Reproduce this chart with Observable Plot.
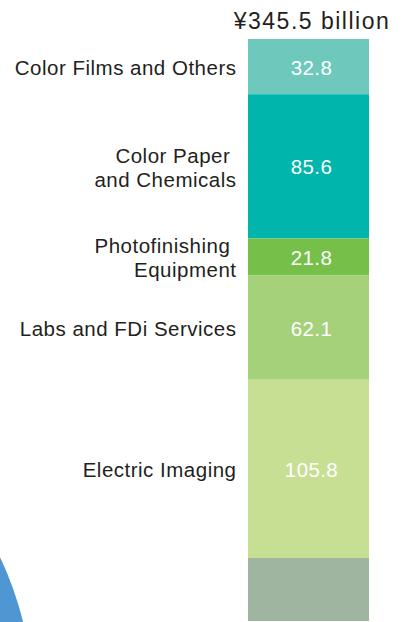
<!DOCTYPE html>
<html>
<head>
<meta charset="utf-8">
<script src="https://cdn.jsdelivr.net/npm/d3@7"></script>
<script src="https://cdn.jsdelivr.net/npm/@observablehq/plot@0.6"></script>
<style>
  html, body { margin: 0; padding: 0; background: #fff; }
</style>
</head>
<body>
<div id="chart"></div>
<script>
// ---- data ----
const categories = [
  "Color Films and Others",
  "Color Paper\u00a0\nand Chemicals",
  "Photofinishing\u00a0\nEquipment",
  "Labs and FDi Services",
  "Electric Imaging",
  ""
];
const values = [32.8, 85.6, 21.8, 62.1, 105.8, 37.4];
const showValue = [true, true, true, true, true, false];
const colors = ["#6ec8bc", "#00b5ac", "#76c04a", "#a4d17a", "#c6df93", "#a0b5a0"];
const totalLabel = "¥345.5 billion";
const total = 345.5;
const pieFragment = [{color: "#4f97d3"}];

const rows = categories.map((c, i) => ({
  key: "total",
  label: c,
  value: values[i],
  valueText: showValue[i] ? values[i].toFixed(1) : null,
  color: colors[i]
}));

const chart = Plot.plot({
  width: 406,
  height: 622,
  marginLeft: 248,
  marginRight: 37,
  marginTop: 39,
  marginBottom: 1,
  x: {domain: ["total"], padding: 0, axis: null},
  y: {domain: [0, total], reverse: true, axis: null},
  style: {fontFamily: "'Liberation Sans', Arial, Helvetica, sans-serif", background: "#fff", color: "#231f20"},
  marks: [
    Plot.dot(pieFragment, {frameAnchor: "bottom-left", r: 332, fill: "color", dx: -548, dy: 79}),
    Plot.barY(rows, {x: "key", y: "value", fill: "color"}),
    Plot.text(rows, Plot.stackY({
      x: "key", y: "value", text: "label",
      textAnchor: "end", dx: -72.5, dy: 0,
      fontSize: 20.5, lineHeight: 1.18, fill: "#231f20"
    })),
    Plot.text(rows, Plot.stackY({
      x: "key", y: "value", text: "valueText",
      dx: 2.5, dy: 1, fontSize: 20.5, fill: "#fff"
    })),
    Plot.text([totalLabel], {
      frameAnchor: "top", text: d => d, lineAnchor: "bottom",
      dx: 3, dy: -11, fontSize: 23, fill: "#231f20"
    })
  ]
});
const textGroups = chart.querySelectorAll('g[aria-label="text"]');
const spacings = ["0.5px", "0.4px", "1.5px"];
textGroups.forEach((g, i) => { g.style.letterSpacing = spacings[i] || "0px"; });
document.getElementById("chart").appendChild(chart);
</script>
</body>
</html>
